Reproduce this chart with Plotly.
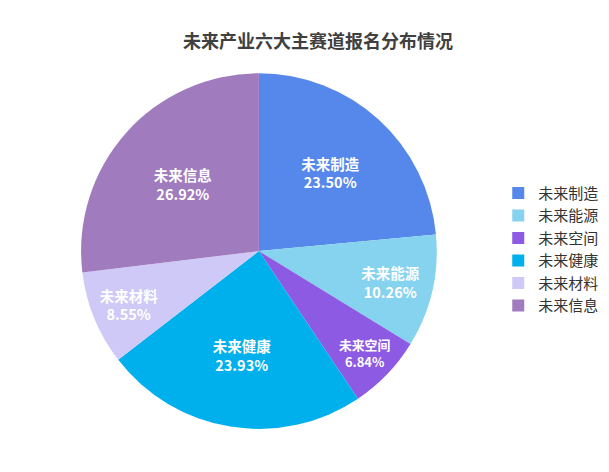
import plotly.graph_objects as go

labels = ["未来制造", "未来能源", "未来空间", "未来健康", "未来材料", "未来信息"]
counts = [55, 24, 16, 56, 20, 63]
colors = ["#5687EA", "#86D3F0", "#8D5BE3", "#00B0EC", "#CFC9F7", "#A07BBE"]

FONT = "Noto Sans CJK SC"

fig = go.Figure(go.Pie(
    labels=labels,
    values=counts,
    sort=False,
    direction="clockwise",
    rotation=0,
    marker=dict(colors=colors, line=dict(width=0)),
    texttemplate="<b>%{label}</b><br><b>%{percent:.2%}</b>",
    textposition="inside",
    insidetextorientation="horizontal",
    textfont=dict(family=FONT, size=14.5, color="white"),
    domain=dict(x=[0.120, 0.704], y=[0.108, 0.862]),
    hoverinfo="label+percent",
))

fig.update_layout(
    width=609, height=472,
    margin=dict(l=0, r=0, t=0, b=0),
    paper_bgcolor="white",
    plot_bgcolor="white",
    font=dict(family=FONT, color="#333333"),
    title=dict(text="<b>未来产业六大主赛道报名分布情况</b>", x=0.509, xanchor="center",
               y=0.929, yanchor="middle",
               font=dict(family=FONT, size=18, color="#404040")),
    legend=dict(x=0.805, y=0.489, xanchor="left", yanchor="middle",
                font=dict(family=FONT, size=15, color="#333333"),
                bgcolor="rgba(0,0,0,0)"),
    showlegend=True,
)

fig.write_html("out.html")
